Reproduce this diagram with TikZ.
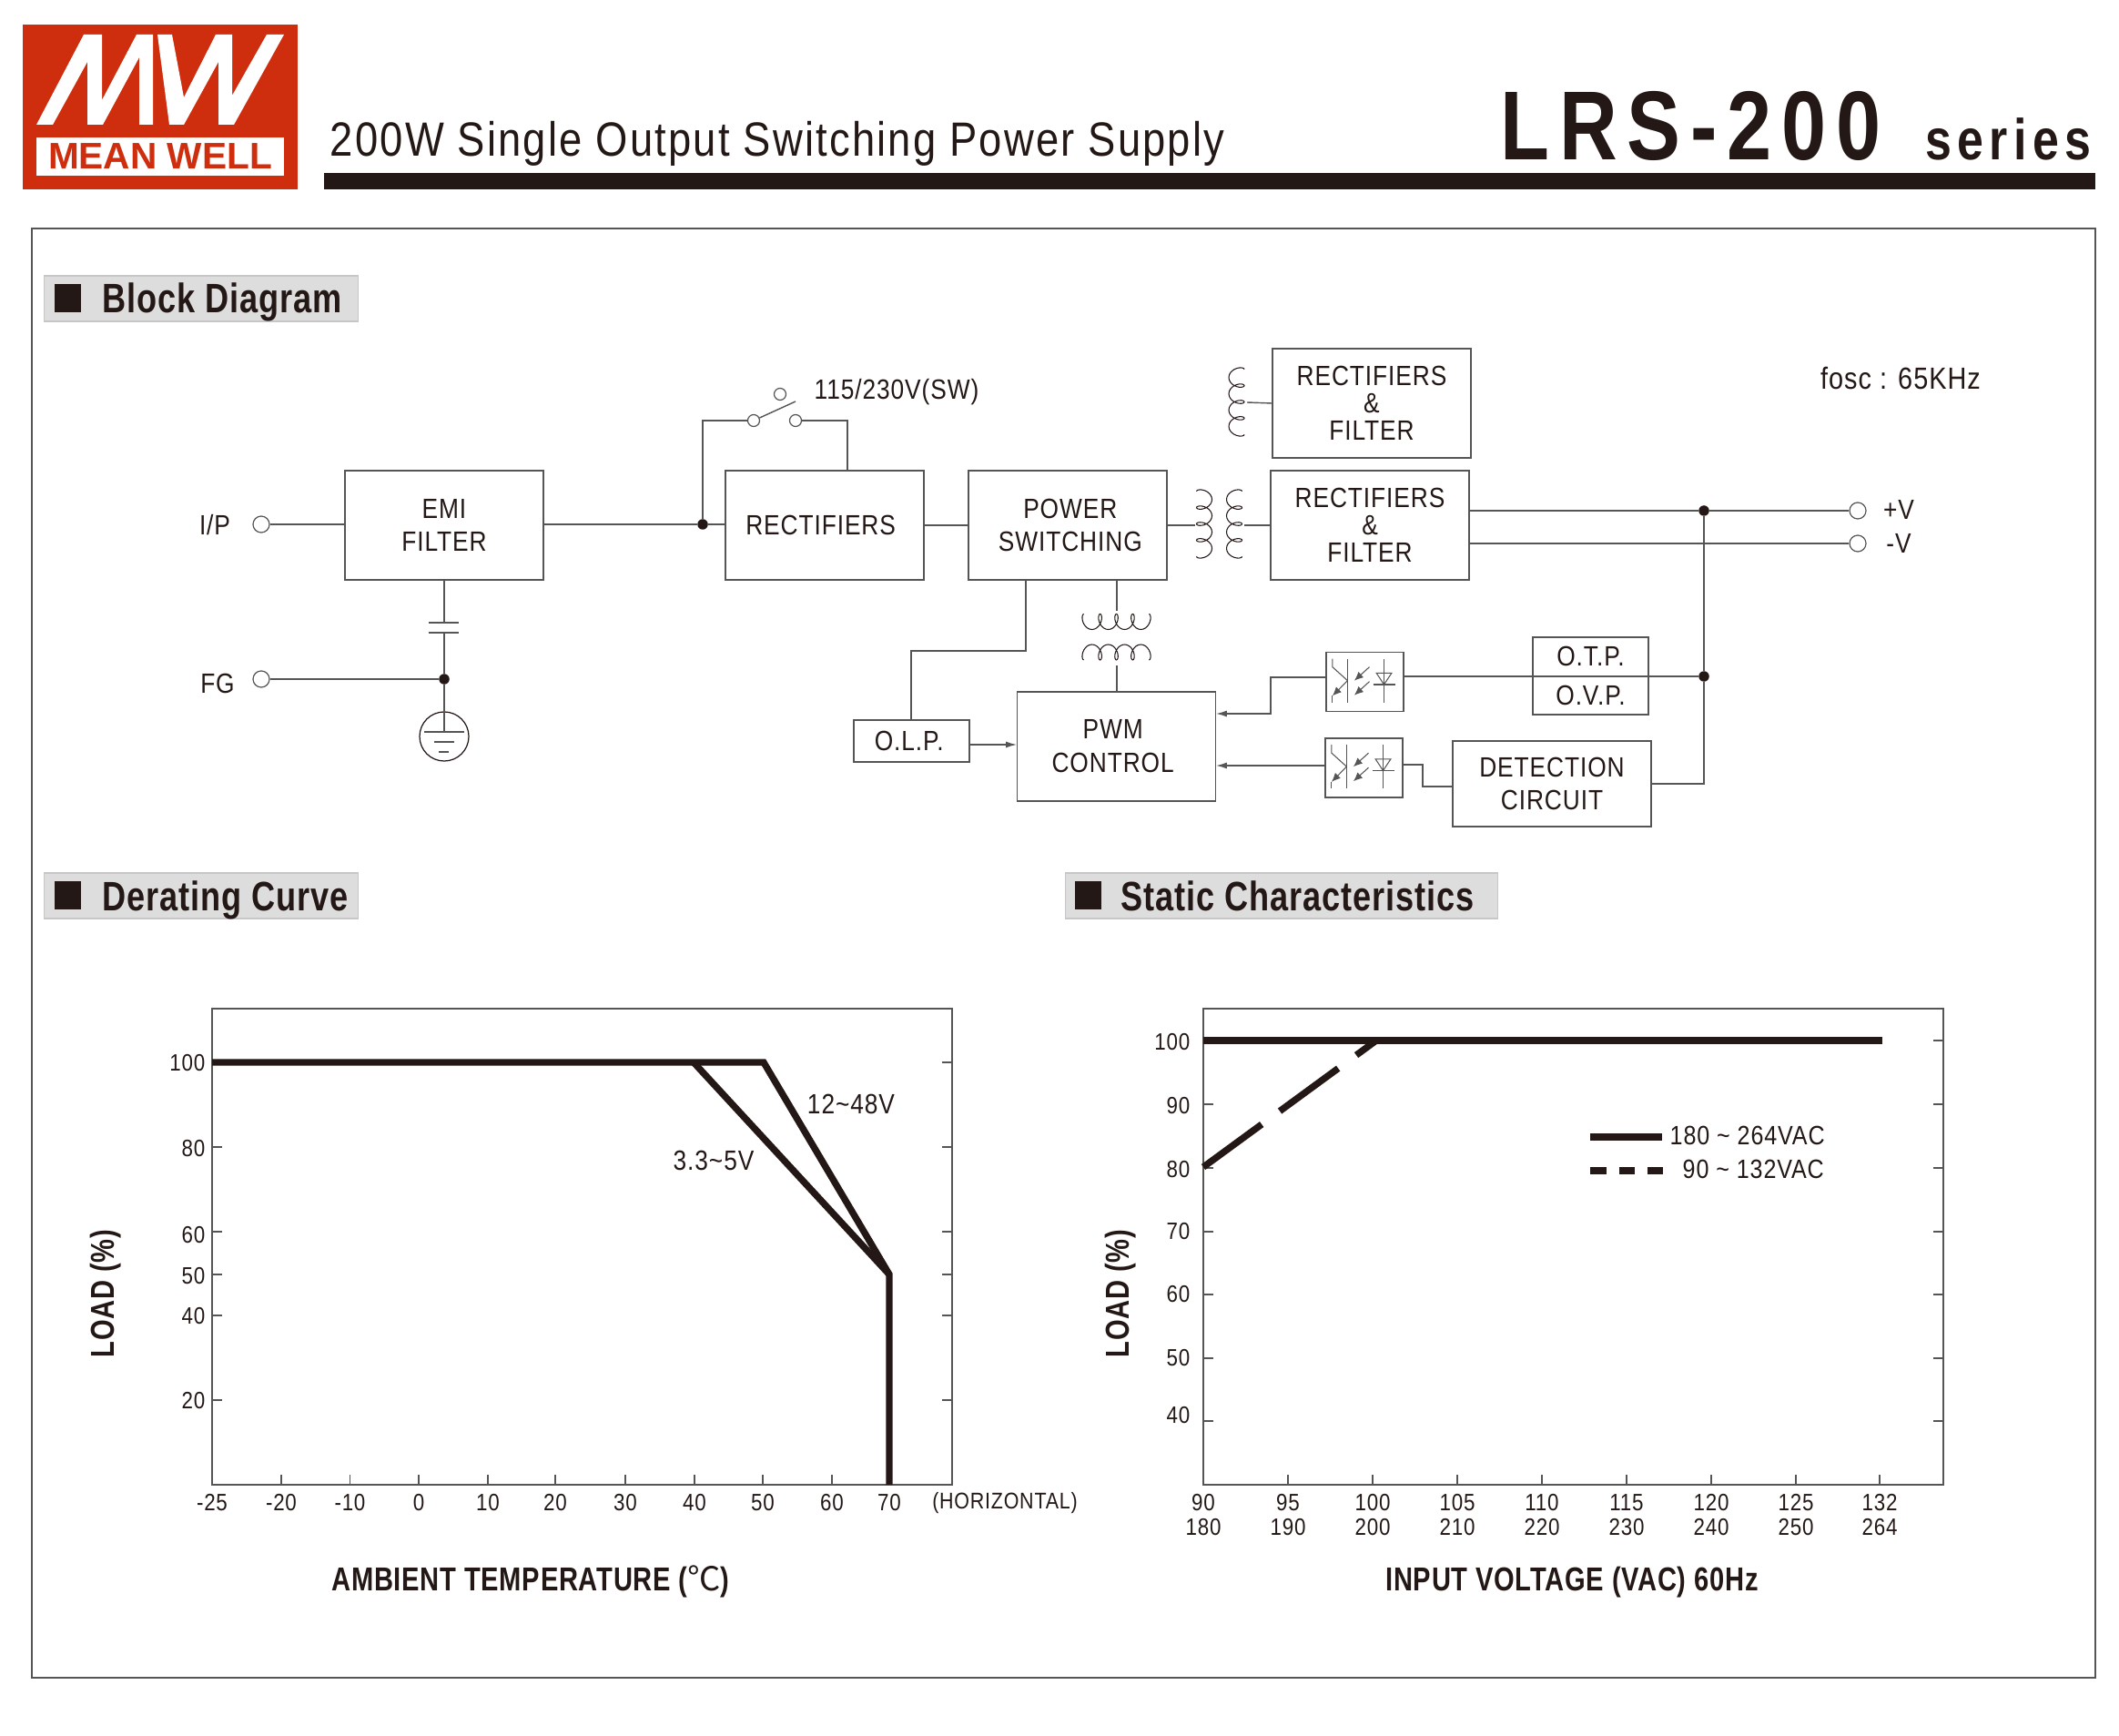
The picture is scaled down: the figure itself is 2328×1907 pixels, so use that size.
\documentclass[tikz,border=0pt]{standalone}
\usepackage{xcolor}
\usepackage{fontspec}
\usetikzlibrary{arrows.meta}
\setmainfont{Liberation Sans}
\newfontfamily\lblfont[FakeStretch=0.86,LetterSpace=3]{Liberation Sans}
\newfontfamily\titlefont[FakeStretch=0.86,LetterSpace=4.2]{Liberation Sans}
\newfontfamily\headfont[FakeStretch=0.8,LetterSpace=2]{Liberation Sans}
\newfontfamily\bigfont[FakeStretch=0.82,LetterSpace=10]{Liberation Sans}
\newfontfamily\cjk{Noto Sans CJK SC}
\definecolor{mwred}{RGB}{207,46,14}
\definecolor{mwink}{RGB}{35,24,21}
\definecolor{mwline}{RGB}{85,85,85}
\definecolor{mwhead}{RGB}{221,221,221}
\newcommand{\lblsize}[2]{\lblfont\fontsize{#1}{#2}\selectfont}

% coils: centre, then the side the humps bulge to
\newcommand{\vcoil}[3]{\draw[coilline] plot[smooth,domain=0:25.13,samples=81]
  ({#1-(#3)*(8.5*cos(\x r))},{#2-35.8+2.85*\x-5.5*sin(\x r)});}
\newcommand{\hcoil}[3]{\draw[coilline] plot[smooth,domain=0:25.13,samples=81]
  ({#1-35.8+2.85*\x-5.5*sin(\x r)},{#2-(#3)*(8.5*cos(\x r))});}
% optocoupler inside a box named #1
\newcommand{\optoinner}[1]{
  \begin{scope}[shift={(#1.north west)}]
    \draw[optoline] (7.7,8) -- (7.7,17) -- (24.3,32);
    \draw[optoline,-{Latex[length=2.8pt,width=2.4pt]}] (24.3,32) -- (7.7,48.7);
    \draw[optoline] (7.7,48.7) -- (7.7,56.3);
    \draw[optoline] (24.3,8) -- (24.3,56.3);
    \draw[optoline,-{Latex[length=2.8pt,width=2.4pt]}] (48.3,17) -- (31.7,32);
    \draw[optoline,-{Latex[length=2.8pt,width=2.4pt]}] (48.3,33) -- (31.7,48);
    \draw[optoline] (64.3,8) -- (64.3,56.3);
    \draw[optoline] (56,23.7) -- (72.7,23.7) -- (64.3,36.3) -- cycle;
    \draw[optoline] (52.3,36.3) -- (76.7,36.3);
  \end{scope}}

\begin{document}
\begin{tikzpicture}[x=0.01cm,y=-0.01cm,
  blockbox/.style={rectangle, draw=mwline, line width=0.45pt, minimum width=2.18cm,
                   minimum height=1.2cm, align=center, inner sep=0pt, text=mwink,
                   font=\lblsize{8.7}{10.5}},
  threebox/.style={blockbox, font=\lblsize{8.7}{8.55}},
  smallbox/.style={blockbox, minimum width=1.27cm, minimum height=0.46cm},
  optobox/.style={rectangle, draw=mwline, line width=0.45pt, minimum width=0.85cm,
                  minimum height=0.65cm, inner sep=0pt},
  wire/.style={draw=mwline, line width=0.4pt},
  wirearrow/.style={wire, -{Latex[length=3.4pt,width=2pt]}},
  optoline/.style={draw=mwline, line width=0.3pt, fill=none},
  coilline/.style={draw=mwink, line width=0.3pt},
  terminal/.style={circle, draw=mwline, fill=white, line width=0.35pt, inner sep=0pt,
                   minimum size=0.18cm},
  swpin/.style={terminal, minimum size=0.13cm},
  junction/.style={circle, fill=mwink, inner sep=0pt, minimum size=0.115cm},
  lbl/.style={inner sep=0pt, text=mwink, font=\lblsize{8.7}{8.7}},
  ticklbl/.style={inner sep=0pt, text=mwink, font=\lblsize{7.4}{7.4}, align=center},
  heading/.style={inner sep=0pt, anchor=base west, text=mwink, font=\headfont\bfseries\fontsize{12.85}{12.85}\selectfont},
  headbar/.style={rectangle, fill=mwhead, draw=mwhead!90!black, line width=0.3pt, inner sep=0pt,
                  minimum height=0.5cm},
  axislbl/.style={inner sep=0pt, text=mwink, font=\headfont\bfseries\fontsize{10.35}{10.35}\selectfont},
  chartframe/.style={draw=mwline, line width=0.45pt},
  charttick/.style={draw=mwline, line width=0.35pt},
  curve/.style={draw=mwink, line width=2.1pt, line join=miter}
]
  \useasboundingbox (0,0) rectangle (2328,1907);

  % logo
  \fill[mwred] (25,27) rectangle (327,208);
  \fill[white] (40,151) rectangle (312,193);
  \fill[white] (40,137) -- (92,38) -- (112,38) -- (112,110) -- (150,38) -- (168,38)
    -- (168,137) -- (153,137) -- (153,63) -- (113,137) -- (96,137) -- (96,68) -- (58,137) -- cycle;
  \fill[white] (173,38) -- (189,38) -- (202,107) -- (237,38) -- (255,38) -- (255,105)
    -- (293,38) -- (312,38) -- (257,137) -- (240,137) -- (240,68) -- (202,137) -- (186,137) -- cycle;
  \node[inner sep=0pt, text=mwred, font=\bfseries\fontsize{11.55}{11.55}\selectfont] (brand) at (176,172) {MEAN WELL};

  % title
  \node[inner sep=0pt, anchor=base west, text=mwink, font=\titlefont\fontsize{15}{15}\selectfont] (title) at (362,172)
    {200W Single Output Switching Power Supply};
  \node[inner sep=0pt, anchor=base west, text=mwink, font=\bigfont\bfseries\fontsize{30.6}{30.6}\selectfont] (model) at (1648,176)
    {LRS-200};
  \node[inner sep=0pt, anchor=base east, text=mwink, font=\bigfont\bfseries\fontsize{18}{18}\selectfont] (series) at (2298,176)
    {series};
  \fill[mwink] (356,190) rectangle (2302,208);
  \draw[draw=mwline, line width=0.5pt] (35,251) rectangle (2302,1843);

  % headings
  \node[headbar, minimum width=3.44cm] (hblock) at (221,328) {};
  \fill[mwink] (60,312) rectangle (89,343);
  \node[heading] (tblock) at (112,344) {Block Diagram};
  \node[headbar, minimum width=3.44cm] (hderate) at (221,984) {};
  \fill[mwink] (60,968) rectangle (89,999);
  \node[heading] (tderate) at (112,1000) {Derating Curve};
  \node[headbar, minimum width=4.75cm] (hstatic) at (1408,984) {};
  \fill[mwink] (1181,968) rectangle (1210,999);
  \node[heading] (tstatic) at (1231,1000) {Static Characteristics};

  % block diagram
  \node[blockbox] (emi) at (488,577) {EMI\\FILTER};
  \node[blockbox] (rect) at (906,577) {RECTIFIERS\hspace{2.5pt}};
  \node[blockbox] (power) at (1173,577) {\hspace{1.6pt}POWER\\\hspace{1.6pt}SWITCHING};
  \node[threebox] (filtertop) at (1507,443) {RECTIFIERS\\\&\\FILTER};
  \node[threebox] (filtermain) at (1505,577) {RECTIFIERS\\\&\\FILTER};
  \node[blockbox] (pwm) at (1226.5,820) {PWM\hspace*{2.2pt}\\CONTROL\hspace*{2.2pt}};
  \node[blockbox, minimum height=0.94cm] (detect) at (1705,861) {DETECTION\\CIRCUIT};
  \node[smallbox] (olp) at (1001.5,814) {O.L.P.\hspace{1.6pt}};
  \node[blockbox, minimum width=1.27cm, minimum height=0.85cm, font=\lblsize{8.7}{12.3}] (otp) at (1747.5,742.5) {O.T.P.\\O.V.P.};
  \node[optobox] (optoa) at (1499.5,749) {};
  \node[optobox] (optob) at (1498.5,843.5) {};
  \optoinner{optoa}
  \optoinner{optob}

  \node[lbl] (ip) at (236,577) {I/P};
  \node[lbl] (fg) at (239,751) {FG};
  \node[lbl] (swlabel) at (985,431) {115/230V(SW)};
  \node[lbl, font=\lblsize{9.55}{9.55}] (fosc) at (2088,416) {fosc : 65KHz};
  \node[lbl] (plusv) at (2086,560) {+V};
  \node[lbl] (minusv) at (2086,597) {-V};

  \node[terminal] (inl) at (287,576) {};
  \node[terminal] (inf) at (287,746) {};
  \node[terminal] (outp) at (2041,561) {};
  \node[terminal] (outn) at (2041,597) {};
  \node[swpin] (swa) at (828,462) {};
  \node[swpin] (swb) at (874,462) {};
  \node[swpin] (swc) at (857,433) {};
  \node[junction] (dotin) at (772,576) {};
  \node[junction] (dotfg) at (488,746) {};
  \node[junction] (dotout) at (1872,561) {};
  \node[junction] (dotfb) at (1872,743) {};
  \coordinate (armend) at (874,441);
  \coordinate (capa) at (488,684);
  \coordinate (capb) at (488,695);

  \draw[wire] (inl) -- (emi.west |- inl);
  \draw[wire] (emi.east |- dotin) -- (dotin) -- (rect.west |- dotin);
  \draw[wire] (rect.east) -- (power.west);
  \draw[wire] (dotin) |- (swa);
  \draw[wire] (swa) -- (armend);
  \draw[wire] (swb) -| (931,517);
  \draw[wire] (emi.south) -- (capa);
  \draw[wire] (471,684) -- (504,684);
  \draw[wire] (471,695) -- (504,695);
  \draw[wire] (capb) -- (dotfg);
  \draw[wire] (inf) -- (dotfg);
  % ground
  \node[circle, draw=mwink, line width=0.35pt, inner sep=0pt, minimum size=0.54cm] (earth) at (488,809) {};
  \draw[wire] (dotfg) -- (488,804);
  \draw[wire] (466,804) -- (510,804);
  \draw[wire] (477,815) -- (499,815);
  \draw[wire] (482,826) -- (493,826);

  % transformers
  \vcoil{1358.5}{441.5}{-1}
  \vcoil{1323}{575.5}{1}
  \vcoil{1356}{575.5}{-1}
  \hcoil{1226.5}{683}{1}
  \hcoil{1226.5}{716.5}{-1}
  \draw[wire] (1370,442) -- (filtertop.west);
  \draw[wire] (power.east) -- (1313,577);
  \draw[wire] (1367,577) -- (filtermain.west);
  \draw[wire] (1227,637) -- (1227,671);
  \draw[wire] (1227,731) -- (1227,760);

  \draw[wire] (filtermain.east |- outp) -- (dotout) -- (outp);
  \draw[wire] (filtermain.east |- outn) -- (outn);
  \draw[wire] (dotout) -- (dotfb);
  \draw[wire] (dotfb) |- (detect.east);
  \draw[wire] (otp.west |- dotfb) -- (otp.east |- dotfb);
  \draw[wire] (otp.east |- dotfb) -- (dotfb);
  \draw[wire] (optoa.east |- dotfb) -- (otp.west |- dotfb);
  \draw[wirearrow] (1457,744) -- (1396,744) |- (1336,784);
  \draw[wirearrow] (1456,841) -- (1336,841);
  \draw[wire] (1541,840) -- (1563,840) |- (1596,864);
  \draw[wire] (1127,637) |- (1001,715) -- (1001,791);
  \draw[wirearrow] (1065,818) -- (1117,818);

  % derating curve
  \draw[chartframe] (233,1108) rectangle (1046,1631);
  \foreach \px/\txt in {233/-25,309/-20,384.5/-10,460/0,536/10,610/20,687/30,763/40,838/50,914/60} {
    \draw[charttick] (\px,1631) -- (\px,1620);
    \node[ticklbl] at (\px,1651) {\txt};
  }
  \node[ticklbl] at (977,1651) {70};
  \node[ticklbl, font=\lblsize{7.1}{7.1}] at (1104,1651) {(HORIZONTAL)};
  \foreach \py/\pl/\txt in {1167/1168/100,1260/1262/80,1353/1357/60,1400/1402/50,1445/1446/40,1538/1539/20} {
    \draw[charttick] (233,\py) -- (244,\py);
    \draw[charttick] (1046,\py) -- (1035,\py);
    \node[ticklbl, anchor=east] at (226,\pl) {\txt};
  }
  \draw[curve] (233,1167) -- (839,1167) -- (977,1400) -- (977,1631);
  \draw[curve] (762,1167) -- (977,1400);
  \node[lbl] at (935,1213) {12\textasciitilde 48V};
  \node[lbl] at (784,1275) {3.3\textasciitilde 5V};
  \node[axislbl, rotate=90] at (116,1421) {LOAD (\%)};
  \node[axislbl] at (583,1737) {AMBIENT TEMPERATURE ({\cjk\mdseries ℃})};

  % static characteristics
  \draw[chartframe] (1322,1108) rectangle (2135,1631);
  \foreach \px/\txta/\txtb in {1322/90/180,1415/95/190,1508/100/200,1601/105/210,1694/110/220,1787/115/230,1880/120/240,1973/125/250,2065/132/264} {
    \draw[charttick] (\px,1631) -- (\px,1620);
    \node[ticklbl] at (\px,1651) {\txta};
    \node[ticklbl] at (\px,1678) {\txtb};
  }
  \foreach \py/\pl/\txt in {1143/1145/100,1213/1215/90,1283/1285/80,1353/1353/70,1422/1422/60,1492/1492/50,1561/1555/40} {
    \draw[charttick] (1322,\py) -- (1333,\py);
    \draw[charttick] (2135,\py) -- (2124,\py);
    \node[ticklbl, anchor=east] at (1308,\pl) {\txt};
  }
  \draw[curve] (1322,1143) -- (2068,1143);
  \draw[curve, dash pattern=on 22.6pt off 7pt] (1322,1282) -- (1512,1143);
  \draw[curve] (1747,1249) -- (1826,1249);
  \draw[curve, dash pattern=on 5pt off 4pt] (1747,1286) -- (1827,1286);
  \node[lbl, anchor=west, font=\lblsize{8.3}{8.3}] at (1834,1247) {180 \textasciitilde{} 264VAC};
  \node[lbl, anchor=west, font=\lblsize{8.3}{8.3}] at (1848,1284) {90 \textasciitilde{} 132VAC};
  \node[axislbl, rotate=90] at (1231,1421) {LOAD (\%)};
  \node[axislbl] at (1727,1738) {INPUT VOLTAGE (VAC) 60Hz};
\end{tikzpicture}
\end{document}
